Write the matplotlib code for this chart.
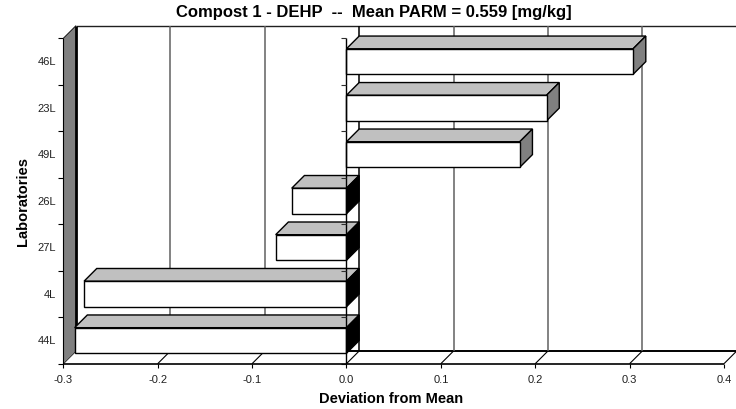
import matplotlib
matplotlib.use("Agg")
import matplotlib.pyplot as plt
from matplotlib.patches import Polygon

plt.rcParams['font.family'] = ['Liberation Sans', 'DejaVu Sans']

labs = ['44L', '4L', '27L', '26L', '49L', '23L', '46L']
vals = [-0.288, -0.278, -0.075, -0.058, 0.1836, 0.212, 0.3037]
xticks = [-0.3, -0.2, -0.1, 0.0, 0.1, 0.2, 0.3, 0.4]

W, H = 736, 409
L, R, T, B = 63.3, 724.0, 38.3, 363.7
fig = plt.figure(figsize=(W/100, H/100), dpi=100)
ax = fig.add_axes([L/W, 1-B/H, (R-L)/W, (B-T)/H])
ax.set_xlim(-0.3, 0.4)
ax.set_ylim(0, 7)
ax.axis('off')

PX = (R-L)/0.7
PY = (B-T)/7
DX = 12.7/PX
DY = 12.7/PY
BW = 0.55

def poly(pts, fc, ec='black', lw=1.0, z=2):
    ax.add_patch(Polygon(pts, closed=True, fc=fc, ec=ec, lw=lw, zorder=z, clip_on=False, joinstyle='miter'))

def line(xs, ys, c='black', lw=1.0, z=2):
    ax.plot(xs, ys, color=c, lw=lw, zorder=z, clip_on=False, solid_capstyle='butt')

xmax = -0.3 + (737-L)/PX
# back wall frame
line([-0.3+DX, xmax], [7+DY, 7+DY], c='#202020', lw=1.0, z=1)
line([-0.3+DX, xmax], [DY, DY], lw=1.4, z=1)
# grid lines on the back wall
for t in xticks[1:-1]:
    col = 'black' if t == 0 else '#606060'
    line([t+DX, t+DX], [DY, 7+DY], c=col, lw=1.1, z=1)
# floor
for t in xticks:
    line([t, t+DX], [0, DY], lw=0.8, z=1)
    line([t, t], [0, -0.1], lw=0.8, z=1)
line([-0.3, 0.4], [0, 0], lw=1.2, z=5)
# left wall
poly([(-0.3, 0), (-0.3, 7), (-0.3+DX, 7+DY), (-0.3+DX, DY)], '#808080', ec='none', lw=0, z=1.5)
line([-0.3, -0.3], [0, 7], lw=0.8, z=2)
line([-0.3+DX, -0.3+DX], [DY, 7+DY], lw=2.0, z=1.6)
line([-0.3, -0.3+DX], [7, 7+DY], lw=0.6, z=1.6)
# y axis at zero
line([0, 0], [0, 7], lw=1.0, z=4)
for k in range(8):
    line([-0.3-5/PX, -0.3], [k, k], lw=0.8)
    line([-5/PX, 0], [k, k], c='#303030', lw=0.8, z=4)
# bars
for i, v in enumerate(vals):
    y0, y1 = i+0.5-BW/2, i+0.5+BW/2
    side = '#808080' if v > 0 else 'black'
    poly([(v, y1), (0, y1), (DX, y1+DY), (v+DX, y1+DY)], '#c0c0c0', z=3)
    xe = max(v, 0)
    poly([(xe, y0), (xe, y1), (xe+DX, y1+DY), (xe+DX, y0+DY)], side, z=3)
    poly([(v, y0), (v, y1), (0, y1), (0, y0)], 'white', z=3.2)
    ax.text(-0.3-7.2/PX, i+0.48, labs[i], ha='right', va='center', fontsize=8, color='#202020', clip_on=False)
for t in xticks:
    ax.text(t, -0.35, f'{t:.1f}', ha='center', va='center', fontsize=8, color='#202020')

fig.text(374/W, 1-12.5/H, 'Compost 1 - DEHP  --  Mean PARM = 0.559 [mg/kg]', ha='center', va='center',
         fontsize=12, fontweight='bold')
fig.text(391.5/W, 1-399/H, 'Deviation from Mean', ha='center', va='center', fontsize=10.5, fontweight='bold')
fig.text(23/W, 1-201/H, 'Laboratories', rotation=90, ha='center', va='center', fontsize=10.5, fontweight='bold')
fig.savefig('out.png', dpi=100)
